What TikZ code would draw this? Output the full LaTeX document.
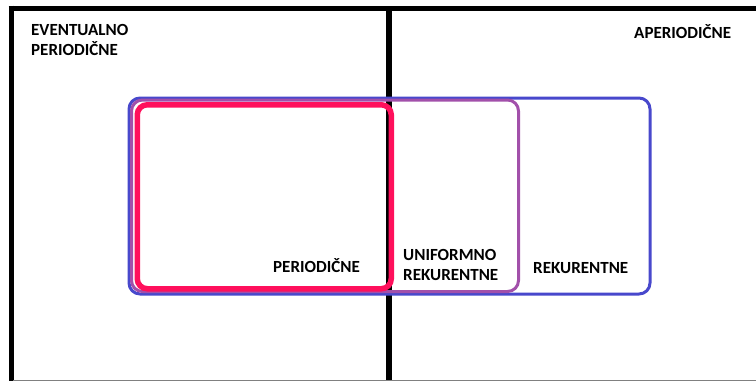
\documentclass[tikz,border=0pt]{standalone}
\usepackage{fontspec}
\setmainfont{Carlito}
\begin{document}
\begin{tikzpicture}[x=1pt,y=-1pt,
  lbl/.style={font=\bfseries\fontsize{17}{20}\selectfont, inner sep=0pt, anchor=base west, align=left},
  frameline/.style={line width=5pt, black},
  setbox/.style={draw, rounded corners=11pt, inner sep=0pt, anchor=north west},
]
\definecolor{rekblue}{RGB}{72,72,204}
\definecolor{unipurple}{RGB}{162,80,170}
\definecolor{perpink}{RGB}{255,16,92}
\useasboundingbox (0,0) rectangle (756,381);

% frame of the two halves
\coordinate (tl) at (8.5,8);
\coordinate (tr) at (756,8);
\coordinate (lt) at (11,5.5);
\coordinate (lb) at (11,381);
\coordinate (mt) at (388.5,8);
\coordinate (mb) at (388.5,381);
\coordinate (bl) at (13,380.5);
\coordinate (br) at (756,380.5);
\draw[frameline] (tl) -- (tr);
\draw[frameline] (lt) -- (lb);
\draw[line width=6pt] (mt) -- (mb);
\draw[gray, line width=1pt] (bl) -- (br);

% nested classes
\node[setbox, draw=rekblue, line width=3pt, minimum width=521pt, minimum height=196pt]
  (rek) at (127.5,96.5) {};
\node[setbox, draw=unipurple, line width=3pt, minimum width=387pt, minimum height=191.5pt]
  (uni) at (130,98.5) {};
\node[setbox, draw=perpink, line width=5.5pt, rounded corners=10pt, minimum width=254pt, minimum height=184pt]
  (per) at (134.5,102) {};

% labels (base anchor sits on the last line of a two-line label)
\node[lbl] (evper) at (31,55) {EVENTUALNO\\PERIODIČNE};
\node[lbl] (aper) at (634,38) {APERIODIČNE};
\node[lbl] (perl) at (273,272) {PERIODIČNE};
\node[lbl] (unil) at (403,280) {UNIFORMNO\\REKURENTNE};
\node[lbl] (rekl) at (533,273) {REKURENTNE};
\end{tikzpicture}
\end{document}
